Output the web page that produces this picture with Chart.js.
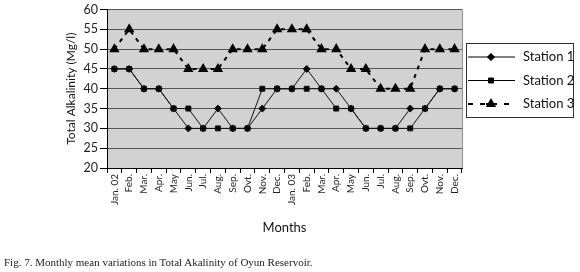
<!DOCTYPE html>
<html>
<head>
<meta charset="utf-8">
<script src="https://cdn.jsdelivr.net/npm/chart.js@4/dist/chart.umd.min.js"></script>
<style>
  body { margin: 0; background: #fff; }
  #wrap { position: relative; width: 580px; height: 272px; }
  #caption {
    position: absolute; left: 4px; top: 256px;
    font: 11px "Liberation Serif", "Times New Roman", serif; color: #222;
    white-space: nowrap;
  }
</style>
</head>
<body>
<div id="wrap">
  <canvas id="chart" width="580" height="272"></canvas>
  <div id="caption">Fig. 7. Monthly mean variations in Total Akalinity of Oyun Reservoir.</div>
</div>
<script>
const MONTHS = ['Jan. 02', 'Feb.', 'Mar.', 'Apr.', 'May', 'Jun.', 'Jul.', 'Aug.', 'Sep.', 'Ovt.', 'Nov.', 'Dec.',
                'Jan. 03', 'Feb.', 'Mar.', 'Apr.', 'May', 'Jun.', 'Jul.', 'Aug.', 'Sep.', 'Ovt.', 'Nov.', 'Dec.'];

const STATION_1 = [45, 45, 40, 40, 35, 30, 30, 35, 30, 30, 35, 40, 40, 45, 40, 40, 35, 30, 30, 30, 35, 35, 40, 40];
const STATION_2 = [45, 45, 40, 40, 35, 35, 30, 30, 30, 30, 40, 40, 40, 40, 40, 35, 35, 30, 30, 30, 30, 35, 40, 40];
const STATION_3 = [50, 55, 50, 50, 50, 45, 45, 45, 50, 50, 50, 55, 55, 55, 50, 50, 45, 45, 40, 40, 40, 50, 50, 50];

const SANS = 'Lato, "Open Sans", sans-serif';

// grey plot background + right border
const plotBg = {
    id: 'plotBg',
    beforeDraw(chart) {
        const {ctx, chartArea: a} = chart;
        ctx.save();
        ctx.fillStyle = '#d2d2d2';
        ctx.fillRect(a.left, a.top, a.right - a.left, a.bottom - a.top);
        ctx.strokeStyle = '#8c8c8c';
        ctx.lineWidth = 1;
        ctx.beginPath();
        ctx.moveTo(a.right + 0.5, a.top);
        ctx.lineTo(a.right + 0.5, a.bottom);
        ctx.stroke();
        ctx.restore();
    }
};

// boxed legend with line + marker samples
const boxLegend = {
    id: 'boxLegend',
    afterDraw(chart) {
        const ctx = chart.ctx;
        const x0 = 466, y0 = 43, w = 107, h = 74;
        ctx.save();
        ctx.strokeStyle = '#333';
        ctx.lineWidth = 1;
        ctx.strokeRect(x0 + 0.5, y0 + 0.5, w, h);
        chart.data.datasets.forEach((ds, i) => {
            const y = y0 + 14 + i * 23.5;
            ctx.strokeStyle = '#000';
            ctx.lineWidth = ds.borderWidth;
            ctx.setLineDash(ds.borderDash ? [5, 7] : []);
            ctx.beginPath();
            ctx.moveTo(x0 + 2, y);
            ctx.lineTo(x0 + 49, y);
            ctx.stroke();
            ctx.setLineDash([]);
            if (ds.borderDash) {
                ctx.fillStyle = '#000';
                ctx.fillRect(x0 + 20, y - 1, 11, 2);
            }
            Chart.helpers.drawPoint(ctx, {pointStyle: ds.pointStyle, radius: ds.pointRadius, borderWidth: 1},
                x0 + 25, y);
            ctx.fillStyle = '#000';
            ctx.fill();
            ctx.font = '13px ' + SANS;
            ctx.textBaseline = 'middle';
            ctx.fillStyle = '#111';
            ctx.fillText(ds.label, x0 + 57, y);
        });
        ctx.restore();
    }
};

new Chart(document.getElementById('chart'), {
    type: 'line',
    data: {
        labels: MONTHS,
        datasets: [
            {
                label: 'Station 1',
                data: STATION_1,
                borderColor: '#111',
                backgroundColor: '#000',
                borderWidth: 1,
                pointStyle: 'rectRot',
                pointRadius: 3.5,
                tension: 0,
            },
            {
                label: 'Station 2',
                data: STATION_2,
                borderColor: '#111',
                backgroundColor: '#000',
                borderWidth: 1,
                pointStyle: 'rect',
                pointRadius: 3.5,
                tension: 0,
            },
            {
                label: 'Station 3',
                data: STATION_3,
                borderColor: '#000',
                backgroundColor: '#000',
                borderWidth: 2,
                borderDash: [4, 5],
                pointStyle: 'triangle',
                pointRadius: 4,
                tension: 0,
            },
        ]
    },
    options: {
        responsive: false,
        animation: false,
        layout: {padding: {left: 60, right: 118, top: 0, bottom: 32}},
        scales: {
            x: {
                offset: true,
                afterFit: s => { s.height = 72; },
                grid: {
                    offset: true,
                    drawOnChartArea: false,
                    drawTicks: true,
                    tickLength: 5,
                    tickColor: '#000',
                },
                border: {color: '#000', width: 1},
                ticks: {
                    autoSkip: false,
                    minRotation: 90,
                    maxRotation: 90,
                    padding: 1,
                    color: '#222',
                    font: {family: SANS, size: 10},
                },
                title: {
                    display: true,
                    text: 'Months',
                    color: '#111',
                    font: {family: SANS, size: 13},
                    padding: {top: 4, bottom: 4},
                },
            },
            y: {
                min: 20,
                max: 60,
                afterFit: s => { s.width = 47; },
                grid: {
                    color: '#555',
                    lineWidth: 1,
                    tickLength: 7,
                    tickColor: '#000',
                },
                border: {color: '#000', width: 1},
                ticks: {
                    stepSize: 5,
                    padding: 2,
                    color: '#222',
                    font: {family: SANS, size: 12.5},
                },
                title: {
                    display: true,
                    text: 'Total Alkalinity (Mg/l)',
                    color: '#111',
                    font: {family: SANS, size: 12},
                    padding: {top: 4, bottom: 4},
                },
            },
        },
        plugins: {
            legend: {display: false},
            tooltip: {enabled: false},
        }
    },
    plugins: [plotBg, boxLegend]
});
</script>
</body>
</html>
